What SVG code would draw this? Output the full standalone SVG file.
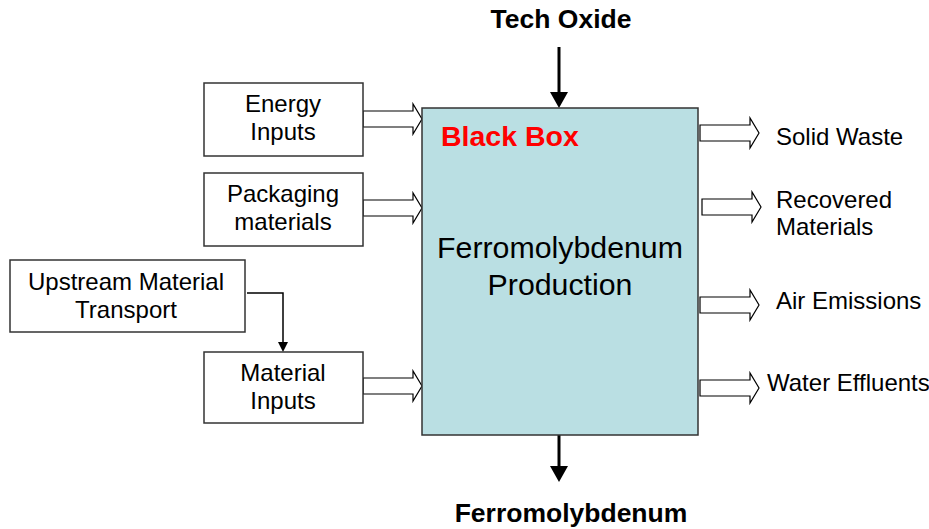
<svg xmlns="http://www.w3.org/2000/svg" width="929" height="529" viewBox="0 0 929 529">
<style>
.box{fill:#fff;stroke:#333;stroke-width:1.5}
.main{fill:#BADFE3;stroke:#333;stroke-width:1.5}
.t{font-family:"Liberation Sans",Arial,sans-serif;font-size:24px;fill:#000}
.c{text-anchor:middle}
.b{font-weight:bold}
.blk{fill:#fff;stroke:#000;stroke-width:1.2}
.ln{stroke:#000;fill:none}
</style>
<defs>
<path id="barrow" d="M0,-8 H50 V-15 L59,0 L50,15 V8 H0 Z"/>
</defs>
<rect width="929" height="529" fill="#fff"/>
<g id="connectors">
<use href="#barrow" class="blk" x="363" y="119"/>
<use href="#barrow" class="blk" x="363" y="208"/>
<use href="#barrow" class="blk" x="363" y="386"/>
<use href="#barrow" class="blk" x="700" y="133"/>
<use href="#barrow" class="blk" x="702" y="207"/>
<use href="#barrow" class="blk" x="700" y="305"/>
<use href="#barrow" class="blk" x="700" y="388"/>
<path class="ln" stroke-width="3" d="M559,47 V93"/>
<path d="M550,92 H568 L559,108 Z" fill="#000"/>
<path class="ln" stroke-width="3" d="M559,435 V467"/>
<path d="M550,466 H568 L559,482 Z" fill="#000"/>
<path class="ln" stroke-width="1.5" d="M247,293 H283 V343"/>
<path d="M278,342 H288 L283,352 Z" fill="#000"/>
</g>
<g id="main">
<rect class="main" x="422" y="108" width="276" height="327"/>
<text class="t b" x="441" y="146" style="font-size:28.5px;fill:#f00">Black Box</text>
<text class="t c" x="560" y="258" style="font-size:30.3px">Ferromolybdenum</text>
<text class="t c" x="560" y="295" style="font-size:30.3px">Production</text>
</g>
<g id="energy">
<rect class="box" x="204" y="83" width="159" height="73"/>
<text class="t c" x="283" y="112">Energy</text>
<text class="t c" x="283" y="140">Inputs</text>
</g>
<g id="packaging">
<rect class="box" x="204" y="173" width="159" height="73"/>
<text class="t c" x="283" y="202">Packaging</text>
<text class="t c" x="283" y="230">materials</text>
</g>
<g id="upstream">
<rect class="box" x="10" y="260" width="235" height="72"/>
<text class="t c" x="126" y="290">Upstream Material</text>
<text class="t c" x="126" y="318">Transport</text>
</g>
<g id="material">
<rect class="box" x="204" y="352" width="159" height="71"/>
<text class="t c" x="283" y="381">Material</text>
<text class="t c" x="283" y="409">Inputs</text>
</g>
<g id="techoxide">
<text class="t c b" x="561" y="28" style="font-size:26.5px">Tech Oxide</text>
</g>
<g id="product">
<text class="t c b" x="571" y="522" style="font-size:26.5px">Ferromolybdenum</text>
</g>
<g id="outputs">
<text class="t" x="776" y="145">Solid Waste</text>
<text class="t" x="776" y="208">Recovered</text>
<text class="t" x="776" y="235">Materials</text>
<text class="t" x="776" y="309">Air Emissions</text>
<text class="t" x="767" y="391">Water Effluents</text>
</g>
</svg>
